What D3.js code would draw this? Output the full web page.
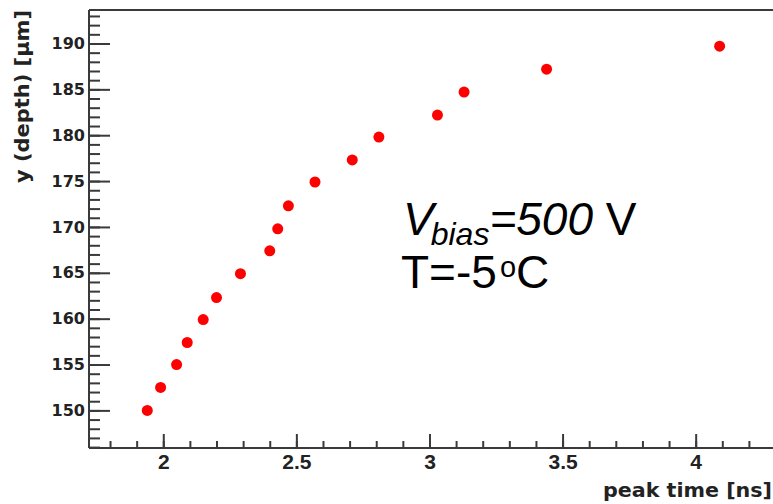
<!DOCTYPE html>
<html>
<head>
<meta charset="utf-8">
<script src="https://cdn.jsdelivr.net/npm/d3@7"></script>
<style>
  html, body { margin: 0; padding: 0; background: #fff; }
  svg { display: block; }
</style>
</head>
<body>
<svg id="chart" width="773" height="504"></svg>
<script>
// ---- data ----
const peakTime = [1.94, 1.99, 2.05, 2.09, 2.15, 2.20, 2.29, 2.40, 2.43, 2.47, 2.57, 2.71, 2.81, 3.03, 3.13, 3.44, 4.09];
const depth    = [150.0, 152.5, 155.0, 157.4, 159.9, 162.3, 164.9, 167.4, 169.8, 172.3, 174.9, 177.3, 179.8, 182.2, 184.7, 187.2, 189.7];
const xTickLabels = [2, 2.5, 3, 3.5, 4];
const yTickLabels = [150, 155, 160, 165, 170, 175, 180, 185, 190];
const xTitle = "peak time [ns]";
const yTitle = "y (depth) [µm]";

// ---- layout ----
const L = 89, T = 10, R = 775, B = 448;
const axisColor = "#3a3a3a";
const svg = d3.select("#chart");

const x = d3.scaleLinear().domain([1.721, 4.298]).range([L, R]);
const y = d3.scaleLinear().domain([145.9, 193.65]).range([B, T]);

// frame (top)
svg.append("line").attr("x1", L).attr("x2", R + 10).attr("y1", T).attr("y2", T)
  .attr("stroke", axisColor).attr("stroke-width", 2);

// minor ticks
const xMinor = d3.range(18, 43).map(v => v / 10);
const yMinor = d3.range(146, 194);

const gxMinor = svg.append("g").attr("transform", `translate(0,${B})`)
  .call(d3.axisBottom(x).tickValues(xMinor).tickSize(-7).tickFormat(""));
const gyMinor = svg.append("g").attr("transform", `translate(${L},0)`)
  .call(d3.axisLeft(y).tickValues(yMinor).tickSize(-11).tickFormat(""));

// major ticks + labels
const gx = svg.append("g").attr("transform", `translate(0,${B})`)
  .call(d3.axisBottom(x).tickValues(xTickLabels).tickSize(-14).tickPadding(6)
        .tickFormat(d3.format("")));
const gy = svg.append("g").attr("transform", `translate(${L},0)`)
  .call(d3.axisLeft(y).tickValues(yTickLabels).tickSize(-21).tickPadding(4)
        .tickFormat(d3.format("")));

[gxMinor, gyMinor, gx, gy].forEach(g => {
  g.selectAll(".domain").attr("stroke", axisColor).attr("stroke-width", 2);
  g.selectAll(".tick line").attr("stroke", axisColor).attr("stroke-width", 2);
});
gyMinor.select(".domain").attr("d", `M0,${B}V${T}`);
gxMinor.select(".domain").attr("d", `M${L},0H${R + 10}`);
gy.select(".domain").remove();
gx.select(".domain").remove();

gx.selectAll(".tick text")
  .attr("font-family", "'Liberation Sans', Arial, sans-serif")
  .attr("font-weight", "bold").attr("font-size", 21).attr("fill", "#222")
  .attr("dy", "0.71em");
gy.selectAll(".tick text")
  .attr("font-family", "'DejaVu Sans', sans-serif")
  .attr("font-weight", "bold").attr("font-size", 16).attr("fill", "#222");

// axis titles
svg.append("text").text(xTitle)
  .attr("x", 772).attr("y", 497).attr("text-anchor", "end")
  .attr("font-family", "'DejaVu Sans', sans-serif").attr("font-weight", "bold")
  .attr("font-size", 19).attr("fill", "#222")
  .attr("textLength", 169).attr("lengthAdjust", "spacingAndGlyphs");

svg.append("text").text(yTitle)
  .attr("transform", "translate(29,10) rotate(-90)")
  .attr("text-anchor", "end")
  .attr("font-family", "'DejaVu Sans', sans-serif").attr("font-weight", "bold")
  .attr("font-size", 19).attr("fill", "#222")
  .attr("textLength", 173).attr("lengthAdjust", "spacingAndGlyphs");

// points
svg.append("g").selectAll("circle")
  .data(peakTime.map((t, i) => [t, depth[i]]))
  .join("circle")
  .attr("cx", d => x(d[0])).attr("cy", d => y(d[1]))
  .attr("r", 5.5).attr("fill", "#ff0000");

// annotation
const ann = svg.append("g")
  .attr("font-family", "'Liberation Sans', Arial, Helvetica, sans-serif")
  .attr("fill", "#000");
const t1 = ann.append("text").attr("x", 403).attr("y", 235).attr("font-size", 46);
t1.append("tspan").attr("font-style", "italic").text("V");
t1.append("tspan").attr("font-style", "italic").attr("font-size", 32).attr("dy", 10).attr("dx", -3).text("bias");
t1.append("tspan").attr("font-style", "italic").attr("dy", -10).text("=500");
t1.append("tspan").text(" V");

const t2 = ann.append("text").attr("x", 401).attr("y", 288).attr("font-size", 46);
t2.append("tspan").text("T=-5");
t2.append("tspan").attr("font-size", 29).attr("dy", -11).attr("dx", 3).text("o");
t2.append("tspan").attr("dy", 11).text("C");
</script>
</body>
</html>
